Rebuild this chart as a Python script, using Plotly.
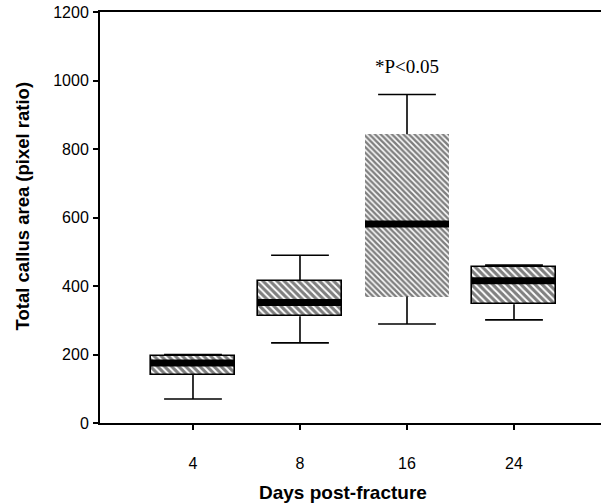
import plotly.graph_objects as go

# ---- data ----
days = ["4", "8", "16", "24"]
q1 = [140, 312, 369, 347]
median = [175, 352, 581, 415]
q3 = [196, 415, 843, 455]
lower = [70, 234, 289, 301]
upper = [200, 490, 959, 461]
y_ticks = [0, 200, 400, 600, 800, 1000, 1200]
annotation_text = "*P<0.05"
annotation_value = 1040

pos = list(range(len(days)))
box_w = 0.785
cap_w = 0.54

fig = go.Figure()

# hatched boxes (q1 -> q3)
fig.add_trace(go.Bar(
    x=pos,
    y=[b - a for a, b in zip(q1, q3)],
    base=q1,
    width=box_w,
    marker=dict(
        color="white",
        pattern=dict(shape="\\", fgcolor="black", bgcolor="white",
                     size=[5, 5, 4, 5], solidity=0.62),
        line=dict(color="black", width=[1.6, 1.6, 0, 1.6]),
    ),
    hoverinfo="skip",
    showlegend=False,
))

# whiskers
wx, wy = [], []
for p, a, b, lo, hi in zip(pos, q1, q3, lower, upper):
    wx += [p, p, None, p, p, None]
    wy += [b, hi, None, a, lo, None]
    wx += [p - cap_w / 2, p + cap_w / 2, None, p - cap_w / 2, p + cap_w / 2, None]
    wy += [hi, hi, None, lo, lo, None]
fig.add_trace(go.Scatter(x=wx, y=wy, mode="lines",
                         line=dict(color="black", width=1.6),
                         hoverinfo="skip", showlegend=False))

# medians
mx, my = [], []
for p, m in zip(pos, median):
    mx += [p - box_w / 2, p + box_w / 2, None]
    my += [m, m, None]
fig.add_trace(go.Scatter(x=mx, y=my, mode="lines",
                         line=dict(color="black", width=7),
                         hoverinfo="skip", showlegend=False))

fig.add_annotation(x=pos[2], y=annotation_value, text=annotation_text,
                   showarrow=False,
                   font=dict(family="Liberation Serif, Times New Roman, serif",
                             size=19, color="black"))

fig.add_annotation(xref="paper", yref="paper", x=0.485, y=0, yshift=-69,
                   xanchor="center", yanchor="middle",
                   text="<b>Days post-fracture</b>", showarrow=False,
                   font=dict(family="Liberation Sans, Arial, sans-serif",
                             size=19, color="black"))
fig.add_annotation(xref="paper", yref="paper", x=0, xshift=-78, y=0.527,
                   xanchor="center", yanchor="middle",
                   text="<b>Total callus area (pixel ratio)</b>", textangle=-90,
                   showarrow=False,
                   font=dict(family="Liberation Sans, Arial, sans-serif",
                             size=18.5, color="black"))

fig.update_layout(
    width=601, height=504,
    margin=dict(l=100, r=0, t=12, b=81),
    paper_bgcolor="white", plot_bgcolor="white",
    font=dict(family="Liberation Sans, Arial, sans-serif", size=16, color="black"),
    bargap=0,
    showlegend=False,
)
fig.update_xaxes(
    range=[-0.869, 3.813],
    tickmode="array", tickvals=pos, ticktext=days,
    ticks="outside", ticklen=5, tickwidth=1.5, tickcolor="black",
    showline=True, linewidth=2, linecolor="black", mirror=True,
    showgrid=False, zeroline=False,
    ticklabelstandoff=20,
)
fig.update_yaxes(
    range=[0, 1200],
    tickmode="array", tickvals=y_ticks,
    ticks="outside", ticklen=5, tickwidth=1.5, tickcolor="black",
    showline=True, linewidth=2, linecolor="black",
    showgrid=False, zeroline=False,
    ticklabelstandoff=1,
)

fig.write_html(
    "out.html",
    config={"displayModeBar": False},
    post_script="document.body.style.margin='0';document.body.style.padding='0';",
)
